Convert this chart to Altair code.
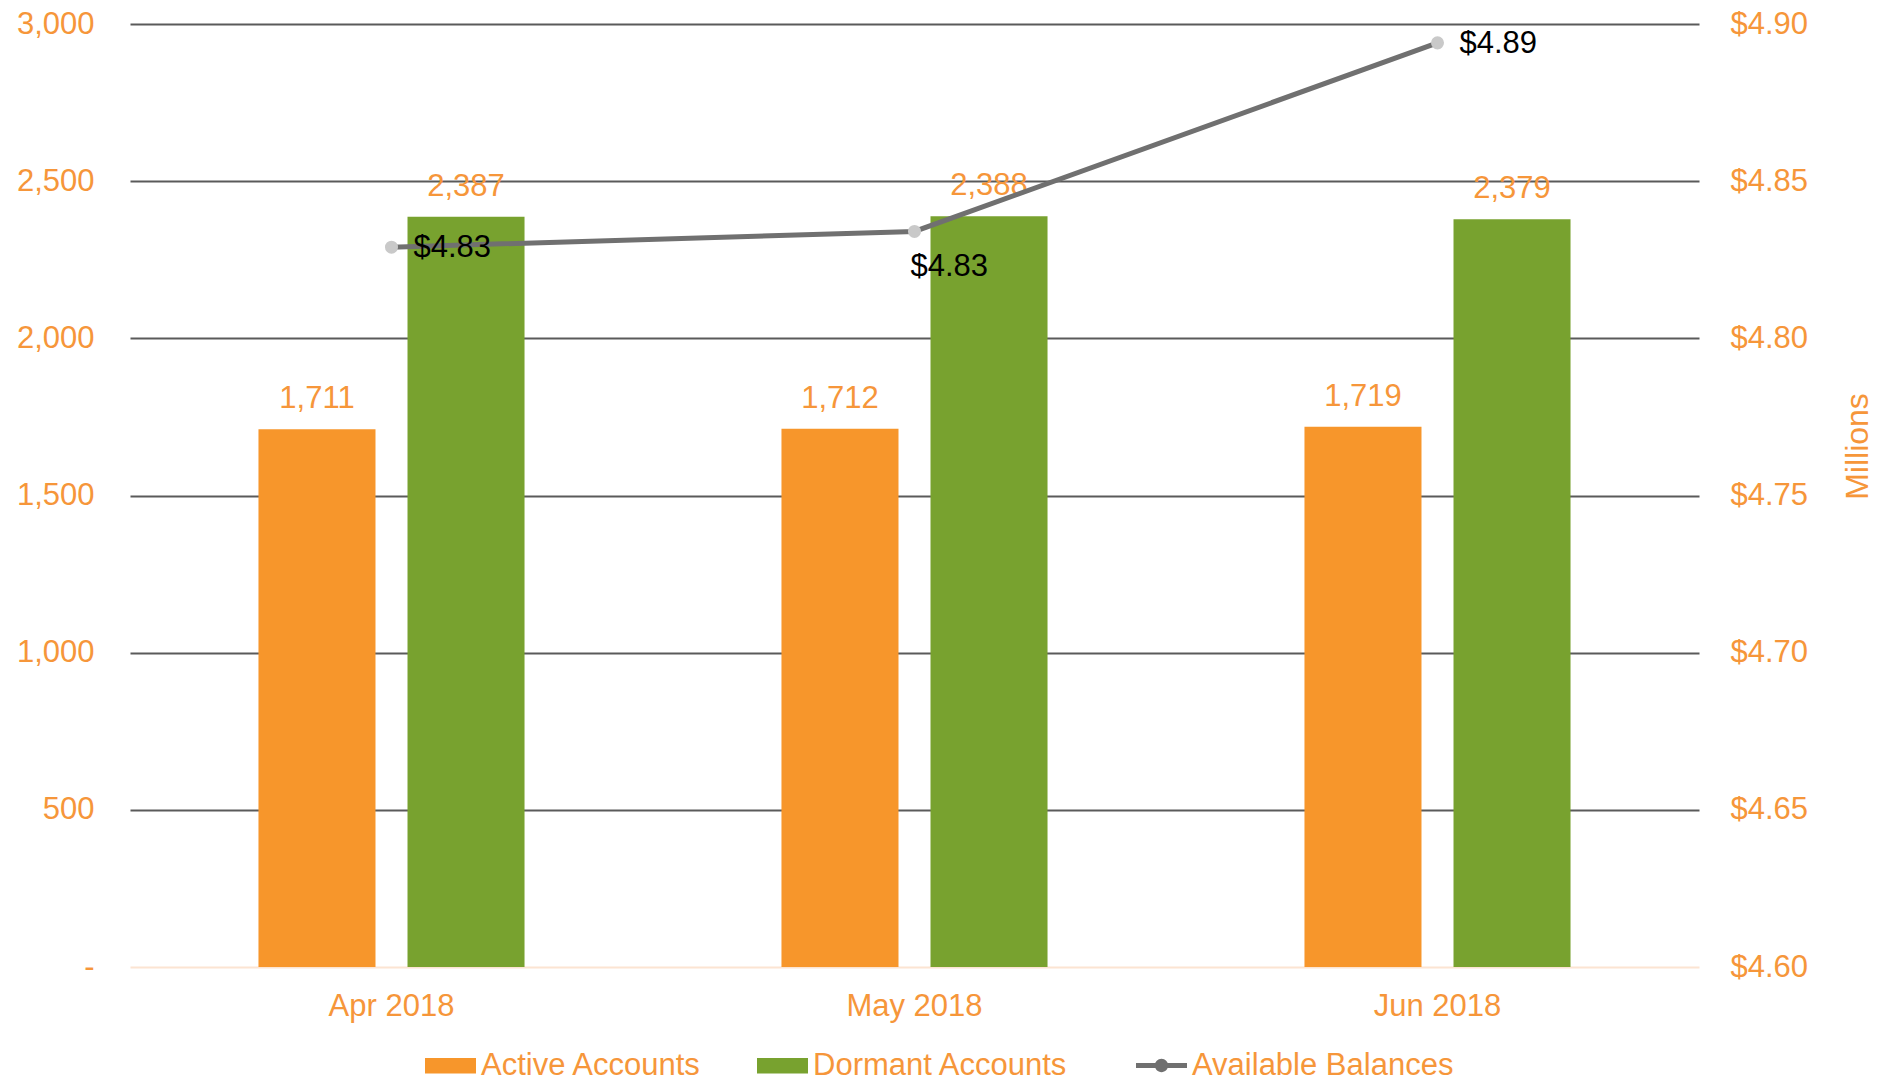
import altair as alt
import pandas as pd

months = ["Apr 2018", "May 2018", "Jun 2018"]
active = [1711, 1712, 1719]
dormant = [2387, 2388, 2379]
balances = [4.829, 4.834, 4.894]
bar_series = ["Active Accounts", "Dormant Accounts"]
line_series = ["Available Balances"]
bar_colors = ["#F7962B", "#78A22F"]
line_color = "#707070"
left_ticks = [0, 500, 1000, 1500, 2000, 2500, 3000]
right_ticks = [4.60, 4.65, 4.70, 4.75, 4.80, 4.85, 4.90]

ORANGE_TXT = "#F6963A"
FONT = "Liberation Sans"
FS = 31

bars_df = pd.DataFrame({
    "Month": months * 2,
    "Series": [bar_series[0]] * 3 + [bar_series[1]] * 3,
    "Accounts": active + dormant,
})
line_df = pd.DataFrame({"Month": months, "Balance": balances, "Series": line_series * 3})

x = alt.X(
    "Month:N", sort=months, title=None,
    scale=alt.Scale(paddingInner=0, paddingOuter=0),
    axis=alt.Axis(labelAngle=0, domain=False, ticks=False, labelPadding=24,
                  labelFontSize=FS, labelColor=ORANGE_TXT, labelFont=FONT),
)
xoff = alt.XOffset("Series:N", sort=bar_series,
                   scale=alt.Scale(paddingInner=0.2148, paddingOuter=0.862))

y_left = alt.Y(
    "Accounts:Q", title=None,
    scale=alt.Scale(domain=[0, 3000], nice=False),
    axis=alt.Axis(
        values=left_ticks, domain=False, ticks=False, labelPadding=36,
        labelFontSize=FS, labelColor=ORANGE_TXT, labelFont=FONT,
        labelExpr="datum.value == 0 ? '-\u2007\u2007' : format(datum.value, ',')",
        gridColor={"condition": {"test": "datum.value === 0", "value": "#FCE4D2"}, "value": "#5A5A5A"},
        gridWidth=2,
    ),
)

line_sym = "M-1,-0.1H1V0.1H-1Z M0.26,0A0.26,0.26,0,1,1,-0.26,0A0.26,0.26,0,1,1,0.26,0Z"
rect_sym = "M-1,-0.3H1V0.3H-1Z"

bar_legend = alt.Legend(
    title=None, orient="none", legendX=295, legendY=1016, direction="horizontal",
    labelFontSize=FS, labelColor=ORANGE_TXT, labelFont=FONT, labelLimit=500,
    symbolSize=2601, symbolType=rect_sym, symbolStrokeWidth=0, symbolOpacity=1,
    labelOffset=5, columnPadding=55,
)
line_legend = alt.Legend(
    title=None, orient="none", legendX=1006, legendY=1016, direction="horizontal",
    labelFontSize=FS, labelColor=ORANGE_TXT, labelFont=FONT, labelLimit=500,
    symbolSize=2601, symbolType=line_sym, symbolStrokeWidth=0, symbolOpacity=1,
    labelOffset=5,
)

bars = alt.Chart(bars_df).mark_bar().encode(
    x=x, xOffset=xoff, y=y_left,
    color=alt.Color("Series:N", scale=alt.Scale(domain=bar_series, range=bar_colors), legend=bar_legend),
)
bar_text = alt.Chart(bars_df).mark_text(
    dy=-30, fontSize=FS, color=ORANGE_TXT, baseline="middle", font=FONT
).encode(x=x, xOffset=xoff, y=alt.Y("Accounts:Q"), text=alt.Text("Accounts:Q", format=","))

left_layer = alt.layer(bars, bar_text)

y_right = alt.Y(
    "Balance:Q", title="Millions",
    scale=alt.Scale(domain=[4.6, 4.9], zero=False, nice=False),
    axis=alt.Axis(
        orient="right", values=right_ticks, format="$.2f", grid=False, domain=False,
        ticks=False, labelPadding=31, labelFontSize=FS, labelColor=ORANGE_TXT, labelFont=FONT,
        titleColor=ORANGE_TXT, titleFontSize=32, titleFontWeight="normal", titleFont=FONT,
        titleAngle=270, titleX=158, titleY=422, titleAlign="center", titleBaseline="middle",
    ),
)

line = alt.Chart(line_df).mark_line(
    color=line_color, strokeWidth=5,
    point=alt.OverlayMarkDef(filled=True, color="#C9C9C9", size=170, opacity=1),
).encode(x=x, y=y_right)

line_key = alt.Chart(line_df).mark_point(filled=True, size=0).encode(
    x=x, y=alt.Y("Balance:Q"),
    fill=alt.Fill("Series:N", scale=alt.Scale(domain=line_series, range=[line_color]), legend=line_legend),
)

lbl_side = alt.Chart(line_df).transform_filter(
    alt.FieldOneOfPredicate(field="Month", oneOf=["Apr 2018", "Jun 2018"])
).mark_text(align="left", baseline="middle", dx=22, dy=1, fontSize=FS, color="black", font=FONT).encode(
    x=x, y=alt.Y("Balance:Q"), text=alt.Text("Balance:Q", format="$.2f"))

lbl_below = alt.Chart(line_df).transform_filter(
    alt.FieldOneOfPredicate(field="Month", oneOf=["May 2018"])
).mark_text(align="left", baseline="middle", dx=-4, dy=36, fontSize=FS, color="black", font=FONT).encode(
    x=x, y=alt.Y("Balance:Q"), text=alt.Text("Balance:Q", format="$.2f"))

right_layer = alt.layer(line, line_key, lbl_side, lbl_below)

chart = alt.layer(left_layer, right_layer).resolve_scale(y="independent").properties(
    width=1569, height=943,
    autosize=alt.AutoSizeParams(type="none"),
    padding={"left": 130, "top": 24, "right": 190, "bottom": 115},
).configure(font=FONT).configure_view(stroke=None, strokeWidth=0)

chart.save("out.html", embed_options={"renderer": "svg", "actions": False})
